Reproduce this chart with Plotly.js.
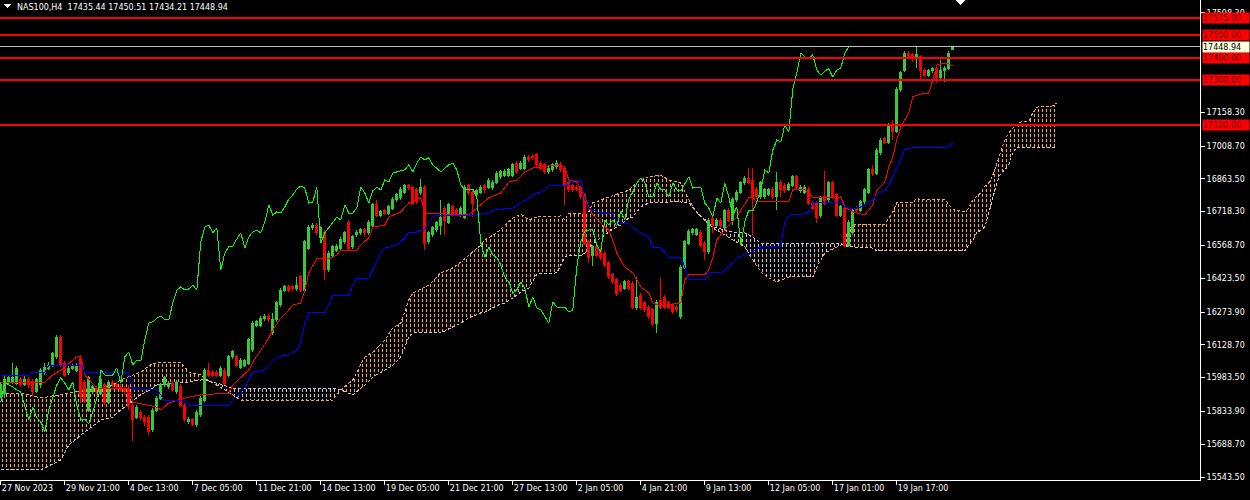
<!DOCTYPE html>
<html><head><meta charset="utf-8">
<script src="https://cdn.plot.ly/plotly-3.0.1.min.js"></script>
<style>html,body{margin:0;padding:0;background:#000;}#chart{width:1250px;height:500px;}
#chart svg path, #chart svg pattern *{shape-rendering:crispEdges;}</style>
</head><body><div id="chart"></div>
<script>
// ---- x axis tick labels (every 16 H4 bars) ----
const tickBars = [0,16,32,48,64,80,96,112,128,144,160,176,192,208,224];
const tickLabels = ['27 Nov 2023','29 Nov 21:00','4 Dec 13:00','7 Dec 05:00','11 Dec 21:00','14 Dec 13:00','19 Dec 05:00','21 Dec 21:00','27 Dec 13:00','2 Jan 05:00','4 Jan 21:00','9 Jan 13:00','12 Jan 05:00','17 Jan 01:00','19 Jan 17:00'];
const yTickVals = [15543.5,15688.7,15833.9,15983.5,16128.7,16273.9,16423.5,16568.7,16718.3,16863.5,17008.7,17158.3,17598.3];

// ---- NAS100 H4 candles ----
const open = [15907,15915,15968,15964,15959,15977,15955,15977,15968,15924,
15951,16004,16026,16039,16075,16163,16048,16004,16026,16017,
16070,15964,15840,15920,15937,15915,15951,15875,15964,15951,
15946,15937,15937,15858,15809,15831,15809,15809,15752,15840,
15893,15951,15942,15959,15920,15946,15862,15787,15796,15774,
15818,15884,16017,16008,16008,15995,16017,15995,16075,16075,
16030,16039,16048,16106,16216,16216,16243,16256,16181,16239,
16305,16371,16385,16385,16376,16429,16371,16557,16646,16659,
16602,16628,16460,16526,16548,16557,16584,16668,16562,16615,
16624,16637,16624,16659,16748,16703,16721,16712,16734,16770,
16779,16805,16832,16823,16814,16801,16827,16584,16615,16637,
16659,16734,16672,16739,16725,16703,16694,16832,16805,16796,
16805,16832,16827,16823,16849,16872,16880,16880,16880,16933,
16911,16911,16960,16964,16969,16933,16925,16894,16903,16916,
16929,16911,16845,16832,16827,16823,16792,16584,16522,16562,
16548,16535,16491,16438,16416,16393,16380,16407,16402,16292,
16349,16314,16296,16283,16225,16327,16340,16314,16305,16296,
16252,16473,16579,16624,16619,16628,16579,16540,16690,16659,
16681,16650,16725,16681,16770,16805,16845,16867,16858,16818,
16783,16783,16796,16818,16783,16845,16836,16818,16836,16872,
16810,16805,16818,16756,16756,16699,16783,16770,16845,16792,
16703,16734,16570,16624,16734,16725,16761,16805,16903,16889,
16978,17040,17026,17102,17075,17257,17345,17420,17412,17398,
17403,17345,17323,17341,17350,17314,17345,17354,17435.44];
const high = [15964,15991,15991,16048,16035,15986,15995,15986,15977,15982,
16026,16048,16052,16097,16172,16172,16057,16035,16044,16048,
16084,15973,15991,15951,15946,16017,15959,15973,15973,15959,
15955,15946,15951,15867,15862,15840,15818,15818,15849,15902,
15959,15991,15968,15968,15973,15955,15871,15809,15805,15840,
15902,16026,16048,16017,16017,16035,16026,16084,16106,16084,
16070,16066,16159,16234,16239,16256,16265,16265,16270,16323,
16380,16393,16393,16393,16429,16438,16593,16659,16668,16668,
16655,16637,16544,16570,16575,16606,16632,16681,16615,16637,
16646,16646,16681,16757,16770,16725,16730,16748,16783,16801,
16827,16840,16840,16832,16823,16863,16836,16632,16655,16677,
16770,16743,16757,16748,16734,16743,16836,16840,16814,16818,
16836,16840,16867,16858,16898,16903,16907,16911,16933,16942,
16942,16969,16969,16973,16978,16942,16933,16920,16933,16947,
16938,16920,16854,16840,16836,16832,16801,16593,16570,16570,
16557,16544,16500,16447,16424,16402,16416,16416,16411,16429,
16358,16323,16305,16292,16327,16424,16349,16323,16314,16305,
16482,16593,16641,16646,16646,16637,16588,16690,16699,16690,
16690,16730,16734,16783,16814,16854,16876,16911,16911,16827,
16854,16823,16823,16827,16894,16858,16845,16849,16880,16880,
16836,16836,16827,16765,16765,16787,16898,16854,16854,16801,
16748,16743,16681,16734,16743,16770,16823,16911,16925,16999,
17044,17049,17111,17124,17270,17341,17429,17429,17420,17447,
17412,17354,17350,17358,17358,17389,17363,17429,17450.51];
const low = [15893,15893,15955,15955,15951,15942,15946,15937,15902,15915,
15937,15995,16017,16030,16066,16030,15986,15995,16017,16008,
15871,15871,15831,15911,15911,15907,15862,15867,15942,15933,
15920,15911,15840,15703,15800,15796,15769,15729,15743,15831,
15884,15942,15933,15920,15911,15853,15787,15778,15769,15765,
15809,15875,15986,15986,15986,15986,15951,15986,16066,16030,
16022,16030,16039,16097,16208,16208,16234,16230,16172,16230,
16296,16362,16362,16367,16367,16362,16362,16548,16637,16615,
16593,16416,16451,16517,16540,16548,16575,16548,16553,16606,
16615,16606,16615,16650,16694,16694,16703,16703,16725,16761,
16770,16796,16814,16748,16752,16792,16548,16575,16606,16628,
16615,16615,16664,16703,16703,16694,16686,16792,16694,16787,
16796,16801,16818,16814,16840,16863,16872,16872,16872,16885,
16903,16903,16938,16947,16916,16903,16885,16885,16894,16907,
16894,16748,16805,16805,16810,16774,16570,16491,16477,16517,
16504,16473,16420,16398,16345,16362,16371,16371,16287,16283,
16283,16274,16243,16212,16181,16287,16287,16287,16265,16274,
16243,16464,16570,16615,16610,16562,16504,16531,16624,16650,
16646,16641,16672,16659,16761,16796,16836,16840,16615,16774,
16774,16774,16787,16774,16725,16783,16801,16810,16827,16814,
16801,16796,16748,16725,16668,16690,16748,16761,16774,16694,
16694,16562,16562,16615,16712,16717,16752,16796,16876,16880,
16969,17018,17018,17035,17066,17248,17336,17394,17381,17354,
17301,17314,17314,17332,17288,17301,17292,17345,17434.21];
const close = [15951,15973,15982,15982,16022,15951,15977,15955,15920,15973,
16017,16030,16039,16088,16163,16039,15995,16026,16035,16039,
15898,15884,15982,15942,15920,15973,15875,15964,15951,15942,
15929,15920,15858,15796,15853,15805,15787,15743,15840,15893,
15951,15982,15959,15929,15964,15862,15796,15800,15778,15831,
15893,16017,15995,15995,15995,16026,15959,16075,16097,16039,
16061,16057,16150,16225,16230,16247,16256,16239,16239,16314,
16371,16385,16371,16376,16393,16371,16584,16650,16659,16624,
16646,16460,16535,16562,16566,16597,16624,16557,16606,16628,
16637,16624,16672,16748,16703,16717,16712,16739,16774,16792,
16818,16832,16823,16756,16761,16827,16579,16624,16646,16668,
16694,16681,16748,16712,16712,16734,16827,16801,16756,16810,
16827,16814,16858,16849,16889,16894,16898,16903,16925,16894,
16933,16960,16947,16956,16925,16911,16894,16911,16925,16933,
16903,16836,16814,16814,16818,16783,16579,16517,16562,16526,
16513,16482,16429,16407,16358,16371,16407,16380,16296,16340,
16292,16283,16252,16225,16318,16296,16296,16296,16274,16283,
16473,16584,16632,16637,16637,16570,16540,16681,16659,16681,
16655,16721,16681,16774,16805,16845,16867,16849,16783,16783,
16845,16814,16814,16783,16845,16814,16810,16840,16872,16823,
16827,16827,16756,16734,16694,16779,16756,16845,16783,16703,
16739,16570,16672,16725,16721,16761,16814,16903,16889,16991,
17035,17026,17102,17071,17261,17332,17420,17403,17398,17412,
17345,17323,17341,17350,17314,17345,17354,17420,17448.94];

// ---- Ichimoku: Tenkan-sen (red) ----
const tenkanBar = [0,11,13,15,19,20,21,24,32,33,39,40,42,46,50,57,58,60,62,63,65,67,68,70,72,73,75,76,77,79,82,84,85,89,90,92,93,96,97,100,102,105,106,117,119,122,125,127,129,131,133,139,141,142,144,146,147,148,150,152,153,154,156,157,158,159,160,162,163,165,170,171,172,176,177,178,179,181,182,184,185,187,188,189,197,198,201,202,203,210,211,213,216,217,218,219,221,222,223,224,225,227,228,230,232,233,234,235,237,238];
const tenkanVal = [15964,15964,15995,16017,16075,16075,15995,15937,15937,15875,15853,15840,15871,15893,15907,15915,15951,15982,16017,16052,16106,16159,16194,16247,16283,16305,16314,16371,16447,16509,16509,16526,16548,16548,16570,16602,16650,16659,16694,16717,16757,16779,16712,16703,16734,16779,16801,16849,16858,16894,16911,16925,16916,16858,16849,16783,16739,16703,16668,16637,16593,16535,16473,16460,16447,16416,16385,16358,16314,16300,16314,16416,16438,16438,16460,16513,16593,16637,16659,16694,16725,16779,16783,16761,16761,16814,16814,16801,16779,16783,16739,16717,16703,16725,16748,16814,16849,16916,16960,17035,17093,17155,17226,17239,17243,17301,17367,17372,17372,17363];
// ---- Kijun-sen (blue) ----
const kijunBar = [0,7,8,11,12,20,21,32,33,39,41,46,47,57,58,60,62,63,66,67,69,72,74,75,76,77,81,82,83,87,88,89,92,93,95,96,99,101,102,104,106,108,109,118,122,123,128,132,133,136,137,142,143,145,146,147,149,153,154,157,158,160,162,163,165,167,170,171,172,176,177,180,181,182,184,186,190,195,196,197,201,202,203,210,211,213,215,216,218,219,221,222,223,224,225,226,229,237,238];
const kijunVal = [15995,15995,16008,16008,16039,16039,16004,16004,15933,15933,15880,15880,15858,15858,15884,15915,15973,16008,16017,16039,16075,16084,16106,16137,16225,16270,16270,16305,16345,16349,16393,16424,16424,16460,16535,16557,16570,16602,16628,16628,16641,16694,16703,16703,16712,16725,16734,16779,16792,16814,16832,16836,16858,16858,16770,16734,16717,16708,16668,16664,16646,16624,16606,16562,16557,16517,16517,16473,16416,16416,16447,16447,16460,16473,16513,16526,16562,16566,16672,16703,16708,16717,16757,16761,16739,16730,16739,16748,16770,16792,16814,16836,16872,16911,16956,16995,17004,17004,17026];
// ---- Senkou Span A / B (cloud, shifted 26 bars ahead) ----
const cloudBar = [0,5,10,15,17,21,25,28,30,35,38,39,45,47,50,51,54,58,60,75,83,85,88,91,93,96,98,100,102,103,107,110,113,115,117,120,121,124,126,128,130,132,134,139,140,141,142,145,147,148,150,153,155,157,158,160,162,165,167,170,172,174,178,183,186,188,190,192,194,197,203,204,206,208,210,212,213,218,219,221,223,224,228,229,230,236,237,238,241,242,243,244,245,246,247,248,249,250,251,252,253,254,255,257,258,259,263,264];
const spanA = [15915,15915,15893,15907,15915,15929,15937,15951,15973,16008,16048,16048,16052,16008,15995,15982,15951,15907,15884,15884,15884,15929,15973,16075,16097,16150,16203,16225,16327,16358,16393,16447,16469,16495,16526,16570,16593,16624,16659,16690,16708,16681,16694,16699,16699,16681,16712,16712,16717,16757,16770,16787,16801,16814,16832,16858,16872,16880,16858,16845,16770,16712,16646,16593,16562,16504,16451,16424,16407,16429,16429,16473,16535,16553,16570,16637,16663,16663,16663,16663,16717,16757,16757,16779,16770,16774,16748,16730,16717,16734,16770,16787,16801,16832,16845,16880,16933,16982,17035,17066,17088,17102,17115,17119,17155,17181,17186,17199];
const spanB = [15575,15575,15575,15619,15685,15743,15796,15809,15840,15907,15937,15951,15959,15964,15973,15973,15959,15937,15937,15937,15937,15929,15907,15951,15986,16017,16039,16075,16163,16181,16181,16181,16208,16225,16247,16270,16274,16301,16314,16336,16362,16380,16442,16447,16482,16517,16522,16522,16548,16575,16602,16641,16659,16690,16694,16739,16757,16761,16761,16761,16757,16717,16650,16628,16624,16606,16579,16575,16575,16575,16575,16575,16575,16575,16575,16562,16562,16557,16544,16544,16544,16544,16544,16544,16544,16544,16544,16544,16544,16570,16593,16624,16637,16650,16712,16783,16845,16889,16902,16925,16982,17000,17004,17004,17004,17004,17004,17004];

// ---- horizontal levels ----
const levels = [17575,17500,17400,17300,17100];
const bidPrice = 17448.94;
const symbolText = 'NAS100,H4';

// ================= build =================
const bars = close.map((_, i) => i);
const chikouBar = bars.slice(0, close.length - 26);
const chikouVal = close.slice(26);

function cloudSegments(xs, a, b) {
  const segs = []; let cur = null;
  for (let i = 0; i < xs.length; i++) {
    const s = a[i] >= b[i] ? 1 : -1;
    if (!cur) { cur = {s, x:[xs[i]], a:[a[i]], b:[b[i]]}; continue; }
    if (s !== cur.s) {
      const d0 = a[i-1]-b[i-1], d1 = a[i]-b[i];
      const t = d0/(d0-d1);
      const xc = xs[i-1] + t*(xs[i]-xs[i-1]);
      const yc = a[i-1] + t*(a[i]-a[i-1]);
      cur.x.push(xc); cur.a.push(yc); cur.b.push(yc);
      segs.push(cur);
      cur = {s, x:[xc, xs[i]], a:[yc, a[i]], b:[yc, b[i]]};
    } else { cur.x.push(xs[i]); cur.a.push(a[i]); cur.b.push(b[i]); }
  }
  segs.push(cur);
  return segs;
}

const UP = '#F4A460', DN = '#D8BFD8';
const traces = [];
const segs = cloudSegments(cloudBar, spanA, spanB);
segs.forEach(s => {
  const col = s.s > 0 ? UP : DN;
  traces.push({type:'scatter', mode:'lines', x:s.x, y:s.b, line:{width:0, color:col}, hoverinfo:'skip'});
  traces.push({type:'scatter', mode:'lines', x:s.x, y:s.a, line:{width:0, color:col}, fill:'tonexty',
    fillcolor:'rgba(0,0,0,0)',
    fillpattern:{shape:'|', size:4, solidity:0.25, fgcolor:col, bgcolor:'rgba(0,0,0,0)', fgopacity:1},
    hoverinfo:'skip'});
  // black horizontal breaks turn the hatch lines into short dashes
  traces.push({type:'scatter', mode:'lines', x:s.x, y:s.b, line:{width:0, color:'#000'}, hoverinfo:'skip'});
  traces.push({type:'scatter', mode:'lines', x:s.x, y:s.a, line:{width:0, color:'#000'}, fill:'tonexty',
    fillcolor:'rgba(0,0,0,0)',
    fillpattern:{shape:'-', size:5, solidity:0.4, fgcolor:'#000000', bgcolor:'rgba(0,0,0,0)', fgopacity:1},
    hoverinfo:'skip'});
});
traces.push({type:'scatter', mode:'lines', x:cloudBar, y:spanA, line:{color:UP, width:1, dash:'3px,2px'}});
traces.push({type:'scatter', mode:'lines', x:cloudBar, y:spanB, line:{color:DN, width:1, dash:'3px,2px'}});
// price layer on an overlaid subplot so candles sit above the cloud
traces.push({type:'candlestick', xaxis:'x2', yaxis:'y2', x:bars, open:open, high:high, low:low, close:close,
  increasing:{line:{color:'#32CD32', width:1}, fillcolor:'#32CD32'},
  decreasing:{line:{color:'#FF0000', width:1}, fillcolor:'#FF0000'},
  whiskerwidth:0, hoverinfo:'skip'});
traces.push({type:'scatter', mode:'lines', xaxis:'x2', yaxis:'y2', x:tenkanBar, y:tenkanVal, line:{color:'#FF0000', width:1}});
traces.push({type:'scatter', mode:'lines', xaxis:'x2', yaxis:'y2', x:kijunBar, y:kijunVal, line:{color:'#0000FF', width:1}});
traces.push({type:'scatter', mode:'lines', xaxis:'x2', yaxis:'y2', x:chikouBar, y:chikouVal, line:{color:'#00FF00', width:1}});

const FONT = 'DejaVu Sans';
const XR = [-0.2, 299.8], YR = [15530.2, 17655.0];
const shapes = levels.map(v => ({type:'line', xref:'paper', x0:0, x1:1, yref:'y', y0:v, y1:v, line:{color:'#FF0000', width:2}}));
shapes.push({type:'line', xref:'paper', x0:0, x1:1, yref:'y', y0:bidPrice, y1:bidPrice, line:{color:'#C0C0C0', width:1}});
shapes.push({type:'path', xref:'paper', yref:'paper', path:'M 0.0033 0.9917 L 0.0092 0.9917 L 0.00625 0.9833 Z', fillcolor:'#FFFFFF', line:{width:0}});
shapes.push({type:'path', xref:'paper', yref:'paper', path:'M 0.7958 1 L 0.805 1 L 0.8004 0.9896 Z', fillcolor:'#FFFFFF', line:{width:0}});

const annotations = levels.map(v => ({xref:'paper', x:1, xanchor:'left', yref:'y', y:v, yanchor:'middle',
  text:v.toFixed(2), showarrow:false, bgcolor:'#FF0000', font:{family:FONT, size:8, color:'#6B0000'},
  width:46, height:10, align:'left', borderpad:0, xshift:2}));
annotations.push({xref:'paper', x:1, xanchor:'left', yref:'y', y:bidPrice, yanchor:'middle',
  text:bidPrice.toFixed(2), showarrow:false, bgcolor:'#FFFFE0', font:{family:FONT, size:8, color:'#000000'},
  width:46, height:10, align:'left', borderpad:0, xshift:2});
annotations.push({xref:'paper', yref:'paper', x:0, y:1, xanchor:'left', yanchor:'top', xshift:15, yshift:-1,
  text: symbolText + '\u00a0\u00a0' + [open[open.length-1], high[high.length-1], low[low.length-1], close[close.length-1]].map(v=>v.toFixed(2)).join(' '),
  showarrow:false, font:{family:FONT, size:8, color:'#FFFFFF'}});

const layout = {
  width:1250, height:500,
  margin:{l:0, r:50, t:0, b:20, pad:0},
  paper_bgcolor:'#000000', plot_bgcolor:'#000000',
  showlegend:false, hovermode:false, dragmode:false,
  boxgap:0.5, boxgroupgap:0,
  font:{family:FONT, size:8, color:'#FFFFFF'},
  xaxis:{range:XR, showgrid:false, zeroline:false, tickmode:'array', tickvals:tickBars, ticktext:tickLabels,
    ticks:'outside', ticklen:4, tickcolor:'#FFFFFF', showline:true, linecolor:'#FFFFFF', linewidth:1,
    ticklabelposition:'outside right', tickfont:{family:FONT, size:8, color:'#FFFFFF'}, rangeslider:{visible:false}, fixedrange:true},
  yaxis:{side:'right', range:YR, showgrid:false, zeroline:false, tickmode:'array', tickvals:yTickVals,
    ticktext:yTickVals.map(v=>v.toFixed(2)), ticks:'outside', ticklen:4, tickcolor:'#FFFFFF', showline:true,
    linecolor:'#FFFFFF', linewidth:1, tickfont:{family:FONT, size:8, color:'#FFFFFF'}, fixedrange:true},
  xaxis2:{overlaying:'x', range:XR, visible:false, showgrid:false, zeroline:false, rangeslider:{visible:false}, fixedrange:true},
  yaxis2:{overlaying:'y', side:'right', range:YR, visible:false, showgrid:false, zeroline:false, fixedrange:true},
  shapes:shapes, annotations:annotations
};
Plotly.newPlot('chart', traces, layout, {staticPlot:true, displayModeBar:false});
</script></body></html>
